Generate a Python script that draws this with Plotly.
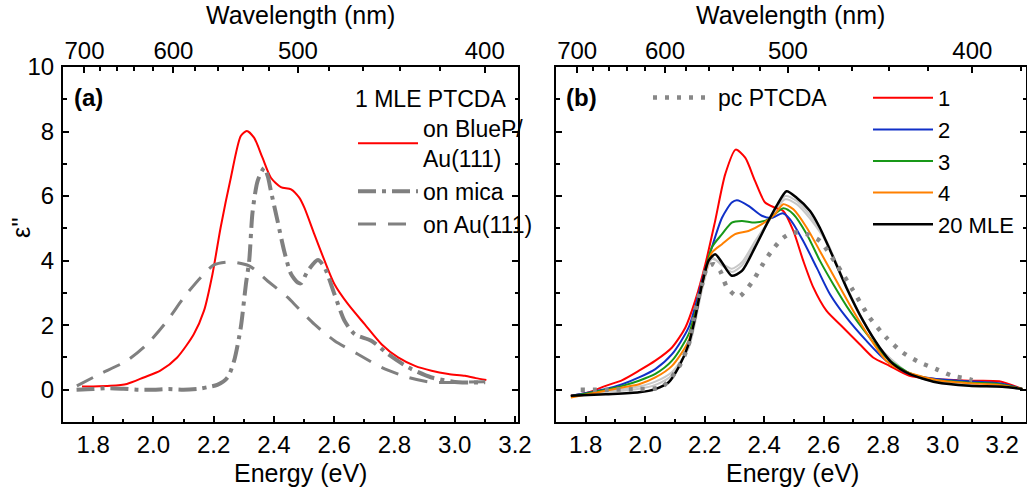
import plotly.graph_objects as go

# ---------------- data: panel (a) ----------------
E_bluep = [1.763, 1.80, 1.857, 1.912, 1.968, 2.023, 2.079, 2.134, 2.168, 2.196, 2.223, 2.257, 2.29, 2.31,
           2.334, 2.362, 2.39, 2.423, 2.457, 2.484, 2.501, 2.534, 2.568, 2.601, 2.646, 2.701, 2.757, 2.812,
           2.868, 2.923, 2.979, 3.034, 3.07, 3.105]
v_bluep = [0.10, 0.10, 0.12, 0.18, 0.38, 0.59, 1.0, 1.72, 2.45, 3.58, 5.02, 6.57, 7.86, 8.02,
           7.81, 7.19, 6.57, 6.28, 6.21, 5.95, 5.64, 4.82, 4.0, 3.27, 2.65, 2.03, 1.41, 1.0,
           0.74, 0.59, 0.49, 0.43, 0.36, 0.30]

E_mica = [1.745, 1.80, 1.85, 1.90, 1.95, 2.00, 2.05, 2.10, 2.15, 2.18, 2.212, 2.246, 2.268, 2.29, 2.307,
          2.318, 2.329, 2.346, 2.368, 2.38, 2.39, 2.412, 2.434, 2.457, 2.479, 2.49, 2.512, 2.546, 2.568,
          2.601, 2.634, 2.668, 2.723, 2.779, 2.846, 2.923, 3.012, 3.101]
v_mica = [0.0, 0.02, 0.05, 0.03, 0.0, 0.0, 0.02, 0.0, 0.03, 0.08, 0.15, 0.38, 0.9, 1.93, 3.27,
          4.0, 5.5, 6.47, 6.88, 6.6, 6.16, 5.23, 4.3, 3.58, 3.32, 3.3, 3.68, 4.02, 3.79,
          2.96, 2.14, 1.72, 1.52, 1.1, 0.69, 0.38, 0.23, 0.23]

E_au = [1.746, 1.823, 1.912, 1.979, 2.046, 2.101, 2.157, 2.201, 2.257, 2.318, 2.379, 2.446, 2.468, 2.534,
        2.601, 2.679, 2.757, 2.846, 2.923, 3.012, 3.101]
v_au = [0.12, 0.49, 0.9, 1.41, 2.14, 2.86, 3.48, 3.87, 3.96, 3.84, 3.37, 2.86, 2.65, 2.03,
        1.52, 1.1, 0.69, 0.38, 0.23, 0.23, 0.25]

# ---------------- data: panel (b) ----------------
E_1 = [1.75, 1.811, 1.867, 1.923, 1.979, 2.034, 2.09, 2.135, 2.168, 2.202, 2.235, 2.269, 2.304, 2.336,
       2.369, 2.403, 2.436, 2.464, 2.498, 2.531, 2.565, 2.609, 2.665, 2.721, 2.766, 2.821, 2.888, 2.978,
       3.089, 3.19, 3.268]
v_1 = [-0.19, -0.08, 0.12, 0.3, 0.59, 0.9, 1.31, 1.93, 2.76, 3.89, 5.23, 6.68, 7.44, 7.19,
       6.47, 5.8, 5.64, 5.54, 4.92, 4.0, 3.17, 2.45, 1.93, 1.41, 1.0, 0.74, 0.43, 0.33,
       0.28, 0.26, 0.02]

E_2 = [1.75, 1.867, 1.923, 1.979, 2.034, 2.09, 2.146, 2.191, 2.224, 2.258, 2.291, 2.308, 2.347, 2.392,
       2.425, 2.462, 2.487, 2.531, 2.576, 2.621, 2.676, 2.743, 2.81, 2.888, 2.978, 3.089, 3.19, 3.268]
v_2 = [-0.19, 0.02, 0.17, 0.38, 0.64, 1.1, 1.93, 3.37, 4.41, 5.33, 5.8, 5.87, 5.7, 5.39,
       5.32, 5.47, 5.28, 4.61, 3.79, 2.96, 2.24, 1.52, 0.9, 0.49, 0.33, 0.26, 0.2, 0.02]

E_3 = [1.75, 1.867, 1.923, 1.979, 2.034, 2.09, 2.146, 2.191, 2.224, 2.258, 2.291, 2.325, 2.369, 2.414,
       2.464, 2.498, 2.543, 2.587, 2.632, 2.687, 2.754, 2.81, 2.888, 2.978, 3.089, 3.19, 3.268]
v_3 = [-0.2, 0.0, 0.12, 0.28, 0.49, 0.9, 1.72, 3.27, 4.41, 4.82, 5.18, 5.23, 5.18, 5.28,
       5.62, 5.44, 4.82, 4.0, 3.27, 2.45, 1.62, 1.0, 0.52, 0.3, 0.22, 0.17, 0.02]

E_4 = [1.75, 1.923, 1.979, 2.034, 2.09, 2.146, 2.191, 2.224, 2.258, 2.302, 2.347, 2.392, 2.436, 2.464,
       2.498, 2.543, 2.587, 2.643, 2.699, 2.754, 2.81, 2.866, 2.978, 3.089, 3.19, 3.268]
v_4 = [-0.24, 0.07, 0.17, 0.38, 0.74, 1.52, 3.27, 4.25, 4.51, 4.82, 4.92, 5.13, 5.44, 5.75,
       5.59, 5.02, 4.3, 3.37, 2.45, 1.62, 0.9, 0.59, 0.3, 0.2, 0.15, 0.02]

E_20 = [1.75, 1.867, 1.979, 2.034, 2.079, 2.112, 2.146, 2.168, 2.191, 2.213, 2.235, 2.258, 2.291, 2.325,
        2.369, 2.414, 2.445, 2.475, 2.509, 2.554, 2.587, 2.632, 2.676, 2.732, 2.788, 2.833, 2.888, 2.978,
        3.089, 3.2, 3.268]
v_20 = [-0.19, -0.14, -0.08, 0.02, 0.23, 0.69, 1.41, 2.24, 3.27, 4.0, 4.2, 3.94, 3.53, 3.68,
        4.41, 5.23, 5.75, 6.15, 5.95, 5.54, 5.02, 4.1, 3.17, 2.14, 1.31, 0.8, 0.49, 0.23,
        0.12, 0.09, 0.02]

# intermediate thicknesses (light grey, unlabeled)
E_gr = [1.75, 1.867, 1.979, 2.034, 2.09, 2.146, 2.191, 2.224, 2.258, 2.291, 2.325, 2.369, 2.414, 2.47,
        2.509, 2.554, 2.61, 2.676, 2.732, 2.788, 2.888, 2.978, 3.089, 3.2, 3.268]
v_gr_a = [-0.2, -0.05, 0.1, 0.25, 0.55, 1.3, 3.1, 4.05, 3.9, 3.75, 3.95, 4.6, 5.2, 5.9,
          5.75, 5.3, 4.55, 3.2, 2.15, 1.3, 0.5, 0.25, 0.15, 0.1, 0.02]
v_gr_b = [-0.2, -0.08, 0.03, 0.15, 0.45, 1.35, 3.2, 4.1, 3.85, 3.65, 3.85, 4.5, 5.2, 6.0,
          5.85, 5.4, 4.6, 3.2, 2.15, 1.3, 0.5, 0.24, 0.13, 0.09, 0.02]

E_pc = [1.783, 1.867, 1.979, 2.057, 2.112, 2.146, 2.168, 2.191, 2.208, 2.23, 2.252, 2.275, 2.313, 2.358,
        2.392, 2.425, 2.464, 2.498, 2.543, 2.587, 2.643, 2.699, 2.754, 2.81, 2.866, 2.922, 2.978, 3.033,
        3.089, 3.10]
v_pc = [0.0, 0.0, 0.02, 0.09, 0.69, 1.41, 2.45, 3.27, 3.79, 3.89, 3.68, 3.17, 2.88, 3.32,
        3.84, 4.3, 4.71, 4.87, 4.82, 4.61, 3.89, 3.07, 2.24, 1.62, 1.15, 0.85, 0.64, 0.43,
        0.33, 0.3]

# axes
energy_ticks = [1.8, 2.0, 2.2, 2.4, 2.6, 2.8, 3.0, 3.2]
wl_major = [700, 600, 500, 400]
wl_minor = list(range(380, 701, 20))
HC = 1239.84

FONT = "Liberation Sans, Arial, sans-serif"
W, H = 1027, 493
SPL = dict(shape="spline", smoothing=0.7)

fig = go.Figure()

# panel (a)
fig.add_trace(go.Scatter(x=E_bluep, y=v_bluep, mode="lines", name="on BlueP/<br>Au(111)",
                         line=dict(color="#ff0000", width=2, **SPL), legend="legend"))
fig.add_trace(go.Scatter(x=E_mica, y=v_mica, mode="lines", name="on mica",
                         line=dict(color="#808080", width=4, dash="18px,6px,4px,6px", **SPL),
                         legend="legend"))
fig.add_trace(go.Scatter(x=E_au, y=v_au, mode="lines", name="on Au(111)",
                         line=dict(color="#808080", width=3, dash="18px,12px", **SPL), legend="legend"))

# panel (b)
for vv in (v_gr_a, v_gr_b):
    fig.add_trace(go.Scatter(x=E_gr, y=vv, mode="lines", showlegend=False, hoverinfo="skip",
                             line=dict(color="#c8c8c8", width=2, **SPL), xaxis="x2", yaxis="y2"))
series_b = [(E_1, v_1, "1", "#ff0000"), (E_2, v_2, "2", "#1030c8"), (E_3, v_3, "3", "#189818"),
            (E_4, v_4, "4", "#ff8000"), (E_20, v_20, "20 MLE", "#000000")]
for ee, vv, nm, col in series_b:
    fig.add_trace(go.Scatter(x=ee, y=vv, mode="lines", name=nm,
                             line=dict(color=col, width=2.5 if nm == "20 MLE" else 2, **SPL),
                             xaxis="x2", yaxis="y2", legend="legend3"))
fig.add_trace(go.Scatter(x=E_pc, y=v_pc, mode="lines", name="pc PTCDA",
                         line=dict(color="#888888", width=4.5, dash="4px,8px", **SPL),
                         xaxis="x2", yaxis="y2", legend="legend2"))

# invisible carriers so the top (wavelength) axes get drawn
fig.add_trace(go.Scatter(x=E_bluep, y=v_bluep, mode="lines", opacity=0, showlegend=False,
                         hoverinfo="skip", xaxis="x3", yaxis="y"))
fig.add_trace(go.Scatter(x=E_1, y=v_1, mode="lines", opacity=0, showlegend=False,
                         hoverinfo="skip", xaxis="x4", yaxis="y2"))

# geometry (pixels -> paper)
xa = [63 / W, 518 / W]
xb = [556 / W, 1026 / W]
yd = [1 - 422 / H, 1 - 67 / H]

axis_common = dict(showline=True, linecolor="black", linewidth=2, ticks="inside", ticklen=6,
                   tickwidth=1.5, tickcolor="black", showgrid=False, zeroline=False, automargin=False,
                   tickfont=dict(family=FONT, size=24, color="black"))

bottom = dict(axis_common, tickmode="array", tickvals=energy_ticks,
              ticktext=[f"{t:.1f}" for t in energy_ticks],
              minor=dict(ticks="inside", dtick=0.1, tick0=1.7, ticklen=3.5, tickwidth=1.5,
                         tickcolor="black", showgrid=False))
top_common = dict(axis_common, side="top", tickmode="array", tickvals=[HC / w for w in wl_major],
                  ticktext=[str(w) for w in wl_major], ticklabelstandoff=-4,
                  minor=dict(ticks="inside", tickmode="array", tickvals=[HC / w for w in wl_minor],
                             ticklen=3.5, tickwidth=1.5, tickcolor="black", showgrid=False))
left = dict(axis_common, range=[-1, 10], tickmode="linear", tick0=0, dtick=2, mirror="ticks",
            ticklabelstandoff=2,
            minor=dict(ticks="inside", dtick=1, tick0=0, ticklen=3.5, tickwidth=1.5,
                       tickcolor="black", showgrid=False))

fig.update_layout(
    template="none",
    width=W, height=H, margin=dict(l=0, r=0, t=0, b=0, autoexpand=False),
    plot_bgcolor="white", paper_bgcolor="white",
    font=dict(family=FONT, size=23, color="black"),
    xaxis=dict(bottom, domain=xa, range=[1.7, 3.21], anchor="y"),
    yaxis=dict(left, domain=yd, anchor="x"),
    xaxis2=dict(bottom, domain=xb, range=[1.7, 3.28], anchor="y2"),
    yaxis2=dict(left, domain=yd, anchor="x2", showticklabels=False),
    xaxis3=dict(top_common, range=[1.7, 3.21], overlaying="x", anchor="y"),
    xaxis4=dict(top_common, range=[1.7, 3.28], overlaying="x2", anchor="y2"),
    legend=dict(x=353 / W, y=1 - 77 / H, xanchor="left", yanchor="top",
                bgcolor="rgba(0,0,0,0)", font=dict(family=FONT, size=23),
                title=dict(text="1 MLE PTCDA", font=dict(family=FONT, size=23)),
                itemwidth=60, tracegroupgap=0),
    legend2=dict(x=648 / W, y=1 - 76 / H, xanchor="left", yanchor="top",
                 bgcolor="rgba(0,0,0,0)", font=dict(family=FONT, size=23), itemwidth=60),
    legend3=dict(x=868 / W, y=1 - 77 / H, xanchor="left", yanchor="top",
                 bgcolor="rgba(0,0,0,0)", font=dict(family=FONT, size=22), itemwidth=60),
)

ann = [
    dict(text="<b>(a)</b>", x=72 / W, y=1 - 97 / H, xanchor="left", yanchor="middle", font=dict(size=24)),
    dict(text="<b>(b)</b>", x=564 / W, y=1 - 97 / H, xanchor="left", yanchor="middle", font=dict(size=24)),
    dict(text="Energy (eV)", x=300 / W, y=1 - 473 / H, xanchor="center", yanchor="middle", font=dict(size=25)),
    dict(text="Energy (eV)", x=792 / W, y=1 - 473 / H, xanchor="center", yanchor="middle", font=dict(size=25)),
    dict(text="Wavelength (nm)", x=300 / W, y=1 - 15 / H, xanchor="center", yanchor="middle", font=dict(size=25)),
    dict(text="Wavelength (nm)", x=790 / W, y=1 - 15 / H, xanchor="center", yanchor="middle", font=dict(size=25)),
    dict(text="ε''", x=21 / W, y=1 - 228 / H, xanchor="center", yanchor="middle", textangle=-90,
         font=dict(size=25)),
]
for a in ann:
    a.update(xref="paper", yref="paper", showarrow=False)
    a["font"] = dict(family=FONT, color="black", **a["font"])
fig.update_layout(annotations=ann)

fig.write_html("out.html", config={"displayModeBar": False},
               post_script="document.body.style.margin='0px';")
